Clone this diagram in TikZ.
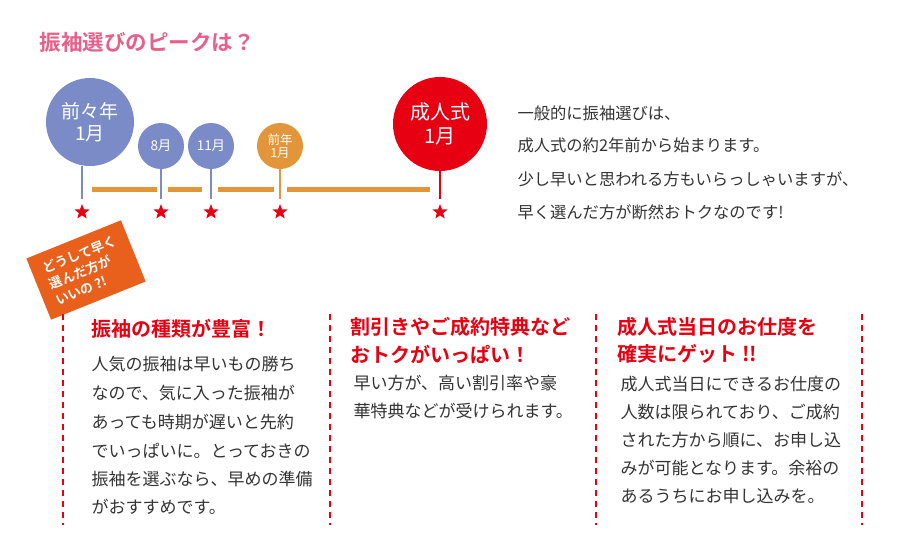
\documentclass[tikz,border=0pt]{standalone}
\usepackage{fontspec}
\setmainfont{Noto Sans CJK JP}
\newfontfamily\bfj{Noto Sans CJK JP Bold}
\usetikzlibrary{shapes.geometric}
\definecolor{pinkt}{HTML}{E8608A}
\definecolor{blu}{HTML}{7A8BC7}
\definecolor{org}{HTML}{E3953A}
\definecolor{rd}{HTML}{E60012}
\definecolor{badge}{HTML}{E8601C}
\definecolor{txt}{HTML}{333333}
\begin{document}
\begin{tikzpicture}[x=1pt,y=-1pt,
  circ/.style={circle,inner sep=0pt,text=white,align=center},
  stem/.style={line width=2.5pt},
  starm/.style={star,star points=5,star point ratio=2.4,fill=rd,inner sep=0pt,minimum size=16pt},
  tl/.style={org,line width=5pt},
  body/.style={anchor=west,text=txt,font=\fontsize{17}{17}\selectfont},
  rbody/.style={anchor=west,text=txt,font=\fontsize{16.3}{16}\selectfont},
  head/.style={anchor=west,text=rd,font=\bfj\fontsize{20}{20}\selectfont},
  sep/.style={rd,line width=1.2pt,dash pattern=on 6pt off 5pt}]
\useasboundingbox (0,0) rectangle (900,550);
\node[anchor=west,text=pinkt,font=\bfj\fontsize{21.5}{21.5}\selectfont] (title) at (36,42) {振袖選びのピークは？};
% timeline
\draw[tl] (92,189) -- (157,189); \draw[tl] (168,189) -- (202,189);
\draw[tl] (218,189) -- (274,189); \draw[tl] (287,189) -- (430,189);
\node[circ,fill=blu,minimum size=88pt,font=\fontsize{19}{22}\selectfont] (c1) at (90,122) {前々年\\1月};
\node[circ,fill=blu,minimum size=46pt,font=\fontsize{13.5}{13}\selectfont] (c2) at (161,146) {8月};
\node[circ,fill=blu,minimum size=46pt,font=\fontsize{13.5}{13}\selectfont] (c3) at (211,146) {11月};
\node[circ,fill=org,minimum size=46pt,font=\fontsize{12.5}{13.5}\selectfont] (c4) at (280,146) {前年\\1月};
\node[circ,fill=rd,minimum size=94pt,font=\fontsize{20}{24}\selectfont] (c5) at (440,124) {成人式\\1月};
\coordinate (b1) at (82,199); \coordinate (b2) at (161,199); \coordinate (b3) at (211,199);
\coordinate (b4) at (280,199); \coordinate (b5) at (440,199);
\draw[stem,blu] (c1.south -| b1) -- (b1);
\draw[stem,blu] (c2) ++(0,23) -- (b2);
\draw[stem,blu] (c3) ++(0,23) -- (b3);
\draw[stem,org] (c4) ++(0,23) -- (b4);
\draw[stem,rd] (c5.south) -- (b5);
\node[starm] (s1) at (82,212) {}; \node[starm] (s2) at (161,212) {};
\node[starm] (s3) at (211,212) {}; \node[starm] (s4) at (280,212) {};
\node[starm] (s5) at (440,212) {};
\node[rbody] (r1) at (514,113) {一般的に振袖選びは、};
\node[rbody] (r2) at (514,145) {成人式の約2年前から始まります。};
\node[rbody] (r3) at (514,179) {少し早いと思われる方もいらっしゃいますが、};
\node[rbody] (r4) at (514,212) {早く選んだ方が断然おトクなのです!};
% badge
\node[fill=badge,rotate=22,minimum width=102pt,minimum height=66pt,inner sep=3pt,text=white,align=left,font=\bfj\fontsize{13}{17}\selectfont] (bd) at (86,270) {どうして早く\\選んだ方が\\いいの ?!};
% separators
\draw[sep] (63,314) -- (63,525);
\draw[sep] (330,314) -- (330,525);
\draw[sep] (596,314) -- (596,525);
\draw[sep] (862,314) -- (862,525);
% col1
\node[head] (h1) at (88,329) {振袖の種類が豊富！};
\node[body] at (88,364) {人気の振袖は早いもの勝ち};
\node[body] at (88,393) {なので、気に入った振袖が};
\node[body] at (88,422) {あっても時期が遅いと先約};
\node[body] at (88,451) {でいっぱいに。とっておきの};
\node[body] at (88,479) {振袖を選ぶなら、早めの準備};
\node[body] at (88,507) {がおすすめです。};
% col2
\node[head] (h2) at (347,327) {割引きやご成約特典など};
\node[head] at (347,354) {おトクがいっぱい！};
\node[body] at (350,383) {早い方が、高い割引率や豪};
\node[body] at (350,411) {華特典などが受けられます。};
% col3
\node[head] (h3) at (614,327) {成人式当日のお仕度を};
\node[head] at (614,354) {確実にゲット !!};
\node[body] at (617,384) {成人式当日にできるお仕度の};
\node[body] at (617,412) {人数は限られており、ご成約};
\node[body] at (617,440) {された方から順に、お申し込};
\node[body] at (617,468) {みが可能となります。余裕の};
\node[body] at (617,496) {あるうちにお申し込みを。};
\end{tikzpicture}
\end{document}
